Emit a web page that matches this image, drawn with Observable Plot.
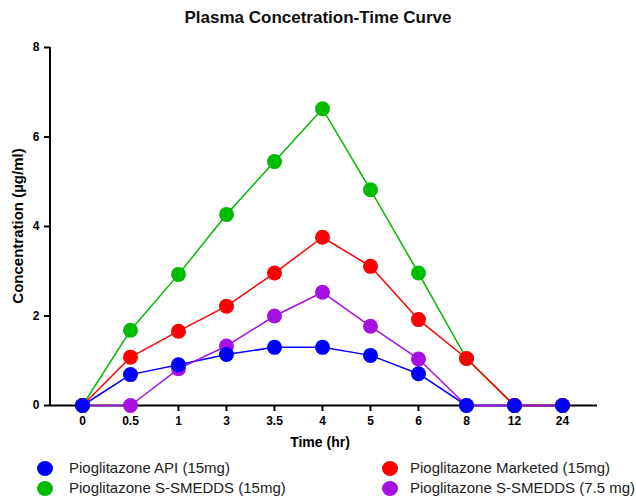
<!DOCTYPE html>
<html>
<head>
<meta charset="utf-8">
<script src="https://cdn.jsdelivr.net/npm/d3@7"></script>
<script src="https://cdn.jsdelivr.net/npm/@observablehq/plot@0.6"></script>
<style>
  html, body { margin: 0; padding: 0; background: #fff; }
  body { width: 636px; height: 496px; overflow: hidden; font-family: "Liberation Sans", Arial, sans-serif; }
  #title { height: 30px; line-height: 36px; text-align: center; font-weight: bold; font-size: 17px; color: #111; }
  #chart svg { display: block; }
  #legend { position: relative; height: 41px; font-size: 15px; color: #222; }
  .item { position: absolute; display: flex; align-items: center; white-space: nowrap; }
  .sw { position: absolute; width: 16px; height: 15px; border-radius: 50%; }
</style>
</head>
<body>
<div id="title">Plasma Concetration-Time Curve</div>
<div id="chart"></div>
<div id="legend"></div>
<script>
// Sampling times (hr), plotted as evenly spaced categories
const times = ["0", "0.5", "1", "3", "3.5", "4", "5", "6", "8", "12", "24"];

// Mean plasma concentration (µg/ml) at each time
const apiConc       = [0, 0.69, 0.91, 1.14, 1.30, 1.30, 1.12, 0.71, 0, 0, 0];
const marketedConc  = [0, 1.08, 1.66, 2.22, 2.96, 3.76, 3.11, 1.92, 1.05, 0, 0];
const smedds15Conc  = [0, 1.68, 2.93, 4.27, 5.45, 6.63, 4.82, 2.96, 1.05, 0, 0];
const smedds75Conc  = [0, 0, 0.82, 1.33, 2.00, 2.53, 1.77, 1.04, 0, 0, 0];

const seriesNames = [
  "Pioglitazone API (15mg)",
  "Pioglitazone Marketed (15mg)",
  "Pioglitazone S-SMEDDS (15mg)",
  "Pioglitazone S-SMEDDS (7.5 mg)"
];
const seriesColors = ["#0000ff", "#ff0000", "#00bb00", "#a610e0"];
const seriesValues = [apiConc, marketedConc, smedds15Conc, smedds75Conc];

const toRows = order => order.flatMap(s =>
  times.map((t, i) => ({series: seriesNames[s], time: t, conc: seriesValues[s][i]}))
);
// Stacking: lines green, blue, red, purple; dots green, purple, red, blue
const lineRows = toRows([2, 0, 1, 3]);
const dotRows = toRows([2, 3, 1, 0]);

const chart = Plot.plot({
  width: 636,
  height: 425,
  marginLeft: 50,
  marginRight: 39,
  marginTop: 17,
  marginBottom: 50,
  style: {fontFamily: "Liberation Sans, Arial, sans-serif", color: "#000"},
  x: {type: "point", domain: times, range: [81, 563], padding: 0},
  y: {domain: [0, 8]},
  color: {domain: seriesNames, range: seriesColors},
  marks: [
    Plot.axisX({
      tickSize: 6, tickPadding: 5, fontSize: 12, fontWeight: "bold",
      label: null, strokeWidth: 2
    }),
    Plot.axisY({
      ticks: [0, 2, 4, 6, 8], tickSize: 6, tickPadding: 5, fontSize: 12, fontWeight: "bold",
      label: null, strokeWidth: 2
    }),
    Plot.ruleY([0], {stroke: "#000", strokeWidth: 2}),
    Plot.line(lineRows, {x: "time", y: "conc", z: "series", stroke: "series", strokeWidth: 1.5}),
    Plot.dot(dotRows, {x: "time", y: "conc", fill: "series", r: 7.5})
  ]
});

// Vertical axis line at the left edge of the frame, spanning the y domain
const ys = chart.scale("y");
const svg = d3.select(chart);
svg.append("line")
  .attr("x1", 50).attr("x2", 50)
  .attr("y1", ys.apply(0) + 1).attr("y2", ys.apply(8))
  .attr("stroke", "#000").attr("stroke-width", 2);

// Axis titles
svg.append("text")
  .attr("x", 320).attr("y", 417)
  .attr("text-anchor", "middle")
  .attr("font-size", 14).attr("font-weight", "bold")
  .text("Time (hr)");
svg.append("text")
  .attr("transform", `translate(23,${ys.apply(4)}) rotate(-90)`)
  .attr("text-anchor", "middle")
  .attr("font-size", 15).attr("font-weight", "bold")
  .text("Concentration (µg/ml)");

document.getElementById("chart").appendChild(chart);

// Legend: two columns, two rows (swatch centre x, text left x, row centre y)
const legend = document.getElementById("legend");
const legendPos = [[45, 69, 13], [390, 410, 13], [45, 69, 33], [390, 410, 33]];
seriesNames.forEach((name, i) => {
  const [cx, tx, cy] = legendPos[i];
  const sw = document.createElement("span");
  sw.className = "sw";
  sw.style.left = (cx - 8) + "px";
  sw.style.top = (cy - 7.5) + "px";
  sw.style.background = seriesColors[i];
  legend.appendChild(sw);
  const label = document.createElement("span");
  label.className = "item";
  label.style.left = tx + "px";
  label.style.top = (cy - 9) + "px";
  label.style.lineHeight = "18px";
  label.textContent = name;
  legend.appendChild(label);
});
</script>
</body>
</html>
